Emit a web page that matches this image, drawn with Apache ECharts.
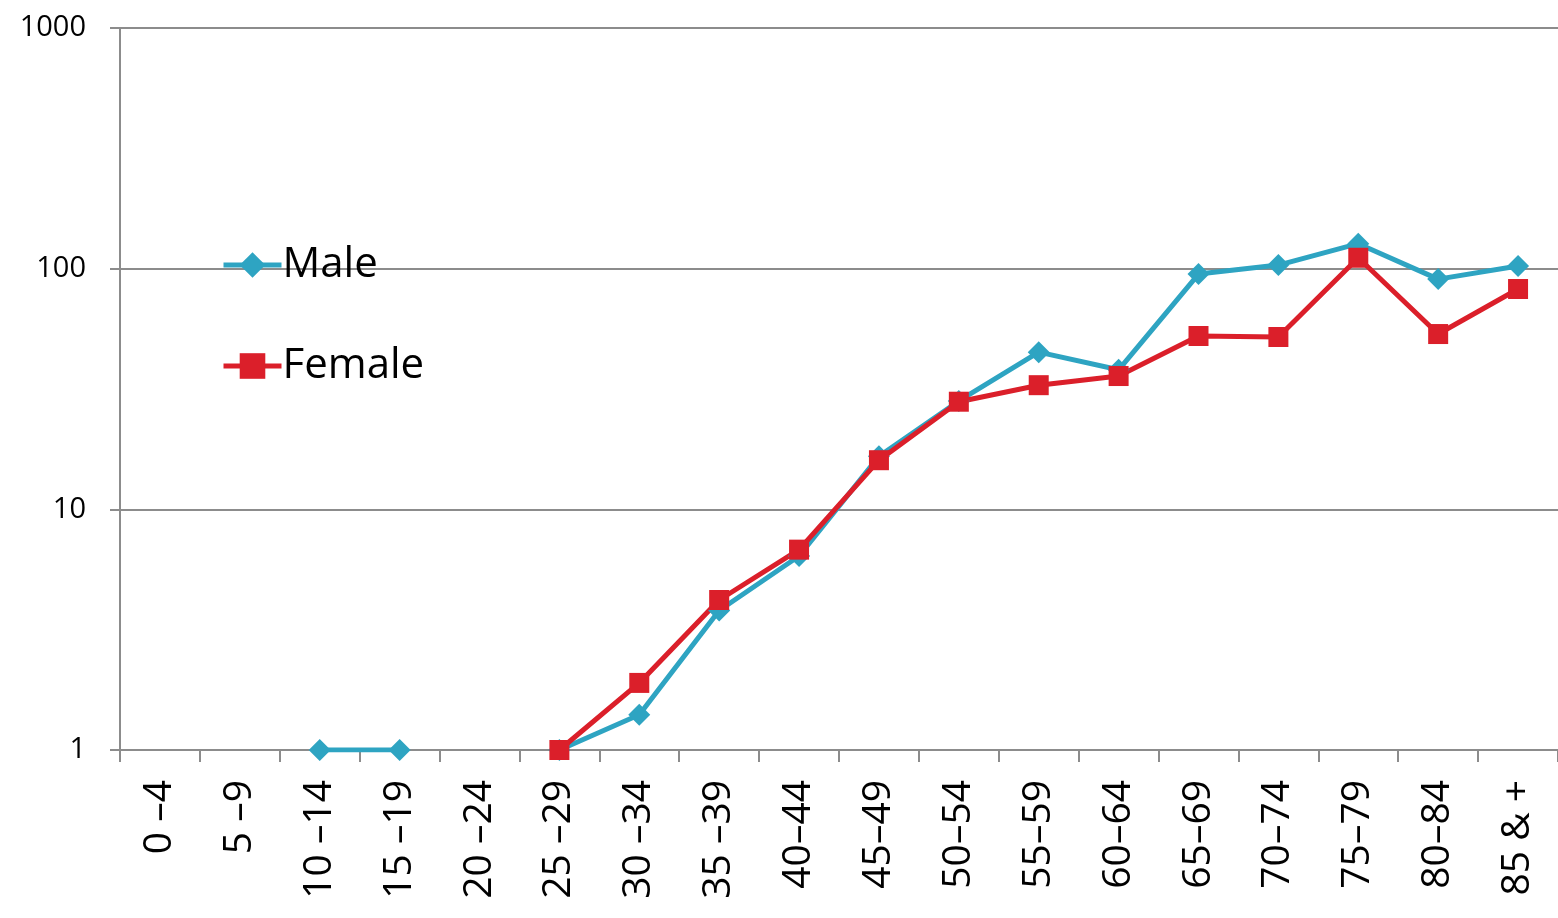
<!DOCTYPE html>
<html>
<head>
<meta charset="utf-8">
<script src="https://cdn.jsdelivr.net/npm/echarts@6/dist/echarts.min.js"></script>
<style>
  html, body { margin: 0; padding: 0; background: #ffffff; }
  #chart { width: 1558px; height: 918px; }
</style>
</head>
<body>
<div id="chart"></div>
<script>
// Age groups along the horizontal axis
const ageGroups = ['0 \u20134', '5 \u20139', '10 \u201314', '15 \u201319', '20 \u201324', '25 \u201329',
  '30 \u201334', '35 \u201339', '40\u201344', '45\u201349', '50\u201354', '55\u201359',
  '60\u201364', '65\u201369', '70\u201374', '75\u201379', '80\u201384', '85 & +'];

// Counts per age group (null = no cases)
const maleValues = [null, null, 1, 1, null, 1, 1.4, 3.8, 6.4, 16.6, 28.2, 45, 38, 95, 103.5, 127, 90.5, 102.5];
const femaleValues = [null, null, null, null, null, 1, 1.9, 4.2, 6.8, 16, 28, 32.8, 35.8, 52.5, 52, 111, 53.5, 82.3];

const fontFamily = '"Open Sans", "Noto Sans", sans-serif';
const gridGray = '#8c8c8c';

const chart = echarts.init(document.getElementById('chart'), null, { renderer: 'canvas' });

chart.setOption({
  backgroundColor: '#ffffff',
  animation: false,
  grid: { left: 120, right: 0, top: 28, bottom: 168, containLabel: false },
  legend: {
    orient: 'vertical',
    left: 216,
    top: 239,
    itemWidth: 58,
    itemHeight: 32,
    itemGap: 59,
    lineStyle: { width: 5 },
    textStyle: { fontFamily: fontFamily, fontSize: 42, lineHeight: 42, color: '#000000', padding: [0, 0, 0, -4] },
    data: ['Male', 'Female']
  },
  xAxis: {
    type: 'category',
    data: ageGroups,
    boundaryGap: true,
    axisLine: { show: true, lineStyle: { color: gridGray, width: 2 } },
    axisTick: { show: true, length: 12, lineStyle: { color: gridGray, width: 2 } },
    axisLabel: {
      rotate: 90,
      interval: 0,
      margin: 30,
      fontFamily: fontFamily,
      fontSize: 39,
      color: '#000000'
    },
    splitLine: { show: false }
  },
  yAxis: {
    type: 'log',
    logBase: 10,
    min: 1,
    max: 1000,
    axisLine: { show: true, lineStyle: { color: gridGray, width: 2 } },
    axisTick: { show: true, length: 10, lineStyle: { color: gridGray, width: 2 } },
    axisLabel: {
      margin: 34,
      fontFamily: fontFamily,
      fontSize: 29,
      color: '#000000',
      formatter: function (v) { return String(Math.round(v)); }
    },
    splitLine: { show: true, lineStyle: { color: gridGray, width: 2 } }
  },
  series: [
    {
      name: 'Male',
      type: 'line',
      data: maleValues,
      connectNulls: false,
      symbol: 'diamond',
      symbolSize: 22,
      showAllSymbol: true,
      color: '#2ea4c2',
      lineStyle: { color: '#2ea4c2', width: 5 },
      itemStyle: { color: '#2ea4c2' }
    },
    {
      name: 'Female',
      type: 'line',
      data: femaleValues,
      connectNulls: false,
      symbol: 'rect',
      symbolSize: 20,
      showAllSymbol: true,
      color: '#db1f2a',
      lineStyle: { color: '#db1f2a', width: 5 },
      itemStyle: { color: '#db1f2a' }
    }
  ]
});
</script>
</body>
</html>
